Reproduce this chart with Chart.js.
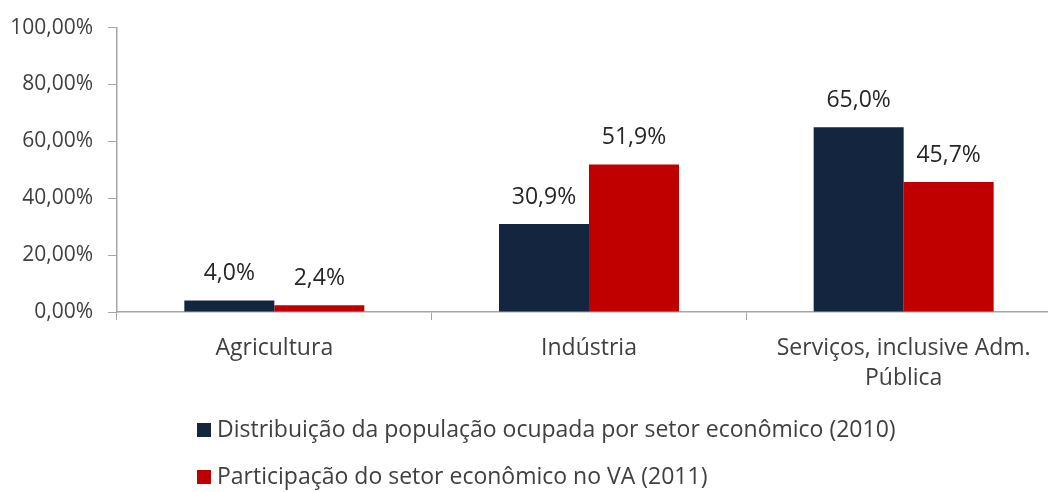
<!DOCTYPE html>
<html lang="pt">
<head>
<meta charset="UTF-8">
<title>Setores econômicos</title>
<script src="https://cdn.jsdelivr.net/npm/chart.js"></script>
<style>
    html, body {
        margin: 0;
        padding: 0;
        overflow: hidden;
        background: #fff;
    }
    #wrap {
        width: 1064px;
        height: 492px;
    }
</style>
</head>
<body>
<div id="wrap">
    <canvas id="setorChart" width="1064" height="492"></canvas>
</div>
<script>
// data
var categories = ['Agricultura', 'Indústria', ['Serviços, inclusive Adm.', 'Pública']];
var seriesNames = [
    'Distribuição da população ocupada por setor econômico (2010)',
    'Participação do setor econômico no VA (2011)'
];
var popOcupada = [4.0, 30.9, 65.0];
var participacaoVA = [2.4, 51.9, 45.7];
var yTicks = [0, 20, 40, 60, 80, 100];

var navy = '#13253f';
var red = '#c00000';
var textColor = '#404040';
var fontFamily = '"Open Sans", "Noto Sans", sans-serif';

function pct(v, digits) {
    return v.toFixed(digits).replace('.', ',') + '%';
}

// value labels above bars
var barLabels = {
    id: 'barLabels',
    afterDatasetsDraw: function (chart) {
        var ctx = chart.ctx;
        ctx.save();
        ctx.fillStyle = '#262626';
        ctx.font = '23px ' + fontFamily;
        ctx.textAlign = 'center';
        ctx.textBaseline = 'middle';
        chart.data.datasets.forEach(function (ds, i) {
            var meta = chart.getDatasetMeta(i);
            meta.data.forEach(function (bar, j) {
                ctx.fillText(pct(ds.data[j], 1), bar.x, bar.y - 27);
            });
        });
        ctx.restore();
    }
};

// legend drawn as a column below the axis
var columnLegend = {
    id: 'columnLegend',
    afterDraw: function (chart) {
        var ctx = chart.ctx;
        ctx.save();
        ctx.font = '23px ' + fontFamily;
        ctx.textBaseline = 'middle';
        chart.data.datasets.forEach(function (ds, i) {
            var y = 430 + i * 47;
            ctx.fillStyle = ds.backgroundColor;
            ctx.fillRect(197, y - 7, 14, 14);
            ctx.fillStyle = textColor;
            ctx.fillText(ds.label, 217, y);
        });
        ctx.restore();
    }
};

var ctx = document.getElementById('setorChart').getContext('2d');
var chart = new Chart(ctx, {
    type: 'bar',
    data: {
        labels: categories,
        datasets: [
            { label: seriesNames[0], data: popOcupada, backgroundColor: navy },
            { label: seriesNames[1], data: participacaoVA, backgroundColor: red }
        ]
    },
    options: {
        responsive: false,
        animation: false,
        layout: { padding: { top: 24, right: 3, left: 0, bottom: 0 } },
        datasets: {
            bar: { categoryPercentage: 0.572, barPercentage: 1.0 }
        },
        plugins: {
            legend: { display: false },
            tooltip: { enabled: false }
        },
        scales: {
            x: {
                grid: {
                    drawOnChartArea: false,
                    offset: true,
                    tickLength: 8,
                    color: '#a6a6a6'
                },
                border: { color: '#a6a6a6', width: 1.5 },
                ticks: {
                    color: textColor,
                    font: { family: fontFamily, size: 23, lineHeight: 1.3 },
                    padding: 14,
                    maxRotation: 0
                },
                afterFit: function (scale) { scale.height = 180; }
            },
            y: {
                min: 0,
                max: 100,
                afterBuildTicks: function (scale) {
                    scale.ticks = yTicks.map(function (v) { return { value: v }; });
                },
                grid: {
                    drawOnChartArea: false,
                    tickLength: 9,
                    color: '#a6a6a6'
                },
                border: { color: '#a6a6a6', width: 1.5 },
                ticks: {
                    color: textColor,
                    font: { family: fontFamily, size: 21 },
                    padding: 15,
                    callback: function (v) { return pct(v, 2); }
                },
                afterFit: function (scale) { scale.width = 117; }
            }
        }
    },
    plugins: [barLabels, columnLegend]
});
</script>
</body>
</html>
